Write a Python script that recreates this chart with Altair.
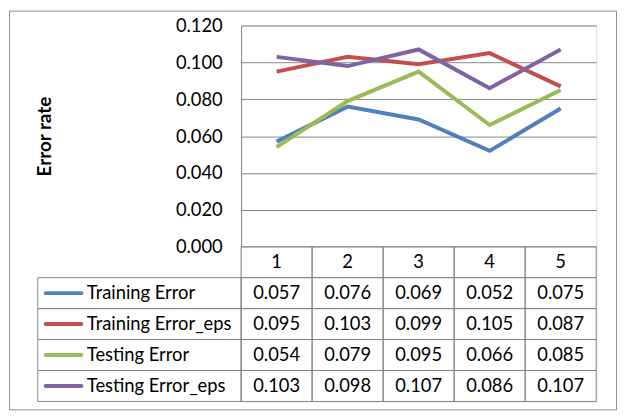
import altair as alt
import pandas as pd

# ---------------- data ----------------
runs = ["1", "2", "3", "4", "5"]
series_names = ["Training Error", "Training Error_eps", "Testing Error", "Testing Error_eps"]
training_error = [0.057, 0.076, 0.069, 0.052, 0.075]
training_error_eps = [0.095, 0.103, 0.099, 0.105, 0.087]
testing_error = [0.054, 0.079, 0.095, 0.066, 0.085]
testing_error_eps = [0.103, 0.098, 0.107, 0.086, 0.107]
y_ticks = [0.0, 0.02, 0.04, 0.06, 0.08, 0.10, 0.12]

series_values = [training_error, training_error_eps, testing_error, testing_error_eps]
colors = ["#4F81BD", "#C0504D", "#9BBB59", "#8064A2"]

# ---------------- layout / style ----------------
FONT = "Lato"
FS = 18.5
GRID = "#868686"
BORDER = "#8c8c8c"
PLOT_W, PLOT_H, TABLE_H = 358, 223, 156
PX_COL = PLOT_W / len(runs)
PX_ROW = TABLE_H / 5
PLOT_LEFT_ABS, TABLE_TOP_ABS = 242, 246


def col_units(px_abs):
    return (px_abs - PLOT_LEFT_ABS) / PX_COL


def row_units(py_abs):
    return (py_abs - TABLE_TOP_ABS) / PX_ROW


LEG_X0 = col_units(37)
SW_X0, SW_X1 = col_units(45), col_units(81)
LEG_TXT_X = col_units(86.5)

color_scale = alt.Scale(domain=series_names, range=colors)

# ---------------- top: line chart ----------------
line_rows = []
for s, vals in zip(series_names, series_values):
    for r, v in zip(runs, vals):
        line_rows.append({"series": s, "run": r, "value": v})
line_df = pd.DataFrame(line_rows)

top = alt.Chart(line_df).mark_line(strokeWidth=4).encode(
    x=alt.X("run:O", scale=alt.Scale(type="point", padding=0.5, domain=runs), axis=None),
    y=alt.Y(
        "value:Q",
        scale=alt.Scale(domain=[0, 0.12], nice=False),
        axis=alt.Axis(
            values=y_ticks, format=".3f", grid=True, gridColor=GRID, gridWidth=1,
            domainColor=GRID, ticks=False, labelPadding=19, labelFont=FONT,
            labelFontSize=FS, labelColor="black", title="Error rate", titleFont=FONT,
            titleFontSize=19, titleFontWeight="bold", titleColor="black", titlePadding=122,
        ),
    ),
    color=alt.Color("series:N", scale=color_scale, legend=None),
    detail="series:N",
).properties(width=PLOT_W, height=PLOT_H)

# ---------------- bottom: data table ----------------
cells = []
texts_center = []
for i, r in enumerate(runs):
    cells.append({"x0": i, "x1": i + 1, "y0": 0, "y1": 1})
    texts_center.append({"x": i + 0.5, "y": 0.5, "label": r})
legend_rows = []
for k, (s, vals) in enumerate(zip(series_names, series_values)):
    row = k + 1
    cells.append({"x0": LEG_X0, "x1": 0, "y0": row, "y1": row + 1})
    legend_rows.append({"series": s, "x0": SW_X0, "x1": SW_X1, "y": row + 0.5, "tx": LEG_TXT_X})
    for i, v in enumerate(vals):
        cells.append({"x0": i, "x1": i + 1, "y0": row, "y1": row + 1})
        texts_center.append({"x": i + 0.5, "y": row + 0.5, "label": f"{v:.3f}"})

cells_df = pd.DataFrame(cells)
texts_df = pd.DataFrame(texts_center)
legend_df = pd.DataFrame(legend_rows)
frame_df = pd.DataFrame([{
    "x0": col_units(8.5), "x1": col_units(620.5),
    "y0": row_units(8.5), "y1": row_units(410.5),
}])

xs = alt.Scale(domain=[0, len(runs)], nice=False, zero=False)
ys = alt.Scale(domain=[0, 5], nice=False, zero=False, reverse=True)

frame = alt.Chart(frame_df).mark_rect(fillOpacity=0, stroke=BORDER, strokeWidth=1).encode(
    x=alt.X("x0:Q", scale=xs, axis=None), x2="x1:Q",
    y=alt.Y("y0:Q", scale=ys, axis=None), y2="y1:Q",
)
cell_layer = alt.Chart(cells_df).mark_rect(fillOpacity=0, stroke=GRID, strokeWidth=1).encode(
    x=alt.X("x0:Q", scale=xs, axis=None), x2="x1:Q",
    y=alt.Y("y0:Q", scale=ys, axis=None), y2="y1:Q",
)
text_layer = alt.Chart(texts_df).mark_text(
    font=FONT, fontSize=FS, color="black", align="center", baseline="middle"
).encode(
    x=alt.X("x:Q", scale=xs, axis=None),
    y=alt.Y("y:Q", scale=ys, axis=None),
    text="label:N",
)
swatch_layer = alt.Chart(legend_df).mark_rule(strokeWidth=4, strokeCap="round").encode(
    x=alt.X("x0:Q", scale=xs, axis=None), x2="x1:Q",
    y=alt.Y("y:Q", scale=ys, axis=None),
    color=alt.Color("series:N", scale=color_scale, legend=None),
)
legend_text = alt.Chart(legend_df).mark_text(
    font=FONT, fontSize=FS, color="black", align="left", baseline="middle"
).encode(
    x=alt.X("tx:Q", scale=xs, axis=None),
    y=alt.Y("y:Q", scale=ys, axis=None),
    text="series:N",
)

bottom = alt.layer(frame, cell_layer, swatch_layer, text_layer, legend_text).properties(
    width=PLOT_W, height=TABLE_H
)

chart = alt.vconcat(top, bottom, spacing=0, bounds="flush", padding=0).resolve_scale(
    x="independent", y="independent", color="independent"
).configure_view(stroke=None).configure(background="white")

chart.save("out.html", embed_options={"renderer": "svg", "actions": False})
